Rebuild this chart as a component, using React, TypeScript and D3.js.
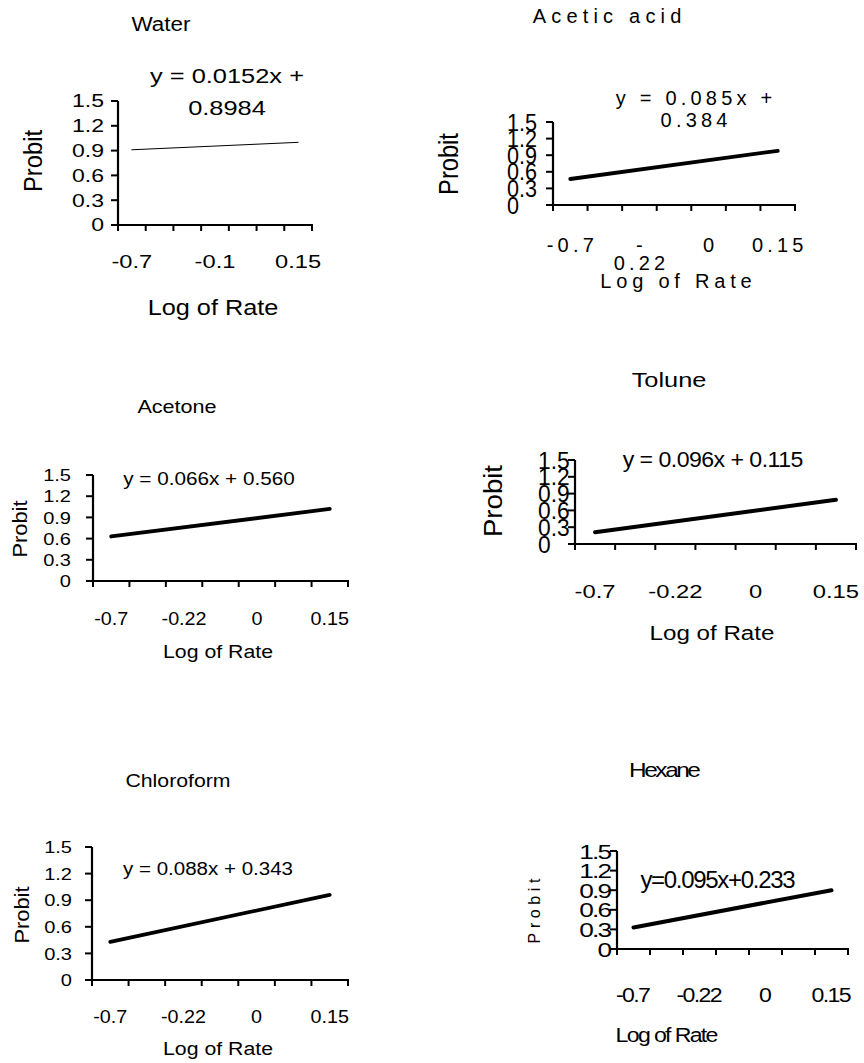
import React from 'react';
import * as d3 from 'd3';

// seven categories on each x axis, only some are labelled
const categories = [1, 2, 3, 4, 5, 6, 7];
const xLabelsWater = ["-0.7", "", "", "-0.1", "", "", "0.15"];
const xLabelsOther = ["-0.7", "", "-0.22", "", "0", "", "0.15"];
const yTicks = [0, 0.3, 0.6, 0.9, 1.2, 1.5];

const panelNames = ["Water", "Acetic acid", "Acetone", "Tolune", "Chloroform", "Hexane"];
const equations = [
    "y = 0.0152x + 0.8984",
    "y = 0.085x + 0.384",
    "y = 0.066x + 0.560",
    "y = 0.096x + 0.115",
    "y = 0.088x + 0.343",
    "y=0.095x+0.233",
];
// trend line values at first and last category
const trendStart = [0.91, 0.47, 0.63, 0.21, 0.43, 0.33];
const trendEnd = [1.0, 0.98, 1.02, 0.79, 0.96, 0.9];

const FONT = "'Liberation Sans', Arial, Helvetica, sans-serif";

type St = { f: number, sx?: number, sy?: number, ls?: number };

const layouts = [
    { // Water
        x0: 118, x1: 312, yTop: 101, yZero: 225, stroke: 1, eqWrap: true, dashWrap: false,
        title: { x: 161, y: 31, st: { f: 21, sx: 1.07 } },
        eq: { x: 227, y: 83, gap: 32, st: { f: 20, sx: 1.27 } },
        yLab: { x: 104, anchor: 'end', st: { f: 18, sx: 1.28 } },
        xLab: { y: 268, st: { f: 18.5, sx: 1.28 } },
        xTitle: { x: 213, y: 315, st: { f: 22, sx: 1.15 } },
        yTitle: { x: 32, y: 161, st: { f: 22, sx: 1.08, sy: 1.2 } },
    },
    { // Acetic acid
        x0: 553, x1: 795, yTop: 122, yZero: 205, stroke: 3.8, eqWrap: true, dashWrap: true,
        title: { x: 607, y: 23, st: { f: 20, ls: 5.2 } },
        eq: { x: 694, y: 105, gap: 22, st: { f: 20, ls: 4.2 } },
        yLab: { x: 507, anchor: 'start', st: { f: 24, sx: 0.9 } },
        xLab: { y: 252, st: { f: 20, ls: 4.2 } },
        xTitle: { x: 676, y: 288, st: { f: 20, ls: 4.8 } },
        yTitle: { x: 448, y: 164, st: { f: 26, sx: 0.91, sy: 1.05 } },
    },
    { // Acetone
        x0: 93, x1: 348, yTop: 475, yZero: 581, stroke: 3.8, eqWrap: false, dashWrap: false,
        title: { x: 177, y: 413, st: { f: 18, sx: 1.2 } },
        eq: { x: 209, y: 485, gap: 0, st: { f: 18.5, sx: 1.12 } },
        yLab: { x: 71, anchor: 'end', st: { f: 17, sx: 1.18 } },
        xLab: { y: 625, st: { f: 17.5, sx: 1.13 } },
        xTitle: { x: 218, y: 658, st: { f: 19, sx: 1.12 } },
        yTitle: { x: 20, y: 529, st: { f: 19, sx: 1.15, sy: 1.08 } },
    },
    { // Tolune
        x0: 575, x1: 856, yTop: 460, yZero: 544, stroke: 4, eqWrap: false, dashWrap: false,
        title: { x: 669, y: 387, st: { f: 19.5, sx: 1.3 } },
        eq: { x: 713, y: 467, gap: 0, st: { f: 22, sx: 1.05, ls: -0.5 } },
        yLab: { x: 538, anchor: 'start', st: { f: 24, sx: 0.95 } },
        xLab: { y: 598, st: { f: 18.6, sx: 1.28 } },
        xTitle: { x: 712, y: 640, st: { f: 21, sx: 1.15 } },
        yTitle: { x: 493, y: 501, st: { f: 20, sx: 1.38, sy: 1.3 } },
    },
    { // Chloroform
        x0: 92, x1: 348, yTop: 847, yZero: 980, stroke: 3.8, eqWrap: false, dashWrap: false,
        title: { x: 178, y: 787, st: { f: 18.5, sx: 1.15 } },
        eq: { x: 208, y: 875, gap: 0, st: { f: 18.5, sx: 1.11 } },
        yLab: { x: 72, anchor: 'end', st: { f: 17, sx: 1.18 } },
        xLab: { y: 1023, st: { f: 17.5, sx: 1.13 } },
        xTitle: { x: 218, y: 1055, st: { f: 19, sx: 1.12 } },
        yTitle: { x: 22, y: 915, st: { f: 19, sx: 1.15, sy: 1.08 } },
    },
    { // Hexane
        x0: 617, x1: 848, yTop: 851, yZero: 949, stroke: 4, eqWrap: false, dashWrap: false,
        title: { x: 665, y: 777, st: { f: 20, sx: 1.22, ls: -2 } },
        eq: { x: 718, y: 888, gap: 0, st: { f: 24, ls: -1.3 } },
        yLab: { x: 612, anchor: 'end', st: { f: 21, sx: 1.25, ls: -1.5 } },
        xLab: { y: 1002, st: { f: 21, sx: 1.1, ls: -1.5 } },
        xTitle: { x: 667, y: 1042, st: { f: 21, sx: 1.1, ls: -1.5 } },
        yTitle: { x: 534, y: 911, st: { f: 16, ls: 4.6 } },
    },
];

function T({ x, y, st, anchor = 'middle', rot = false, dy, children }:
    { x: number, y: number, st: St, anchor?: string, rot?: boolean, dy?: string, children: any }) {
    const sx = st.sx ?? 1, sy = st.sy ?? 1, ls = st.ls ?? 0;
    // chrome adds letter spacing after the last glyph too
    const shift = anchor === 'middle' ? ls / 2 : anchor === 'end' ? ls : 0;
    const tr = `translate(${x},${y})${rot ? ' rotate(-90)' : ''} scale(${sx},${sy})`;
    return (
        <text transform={tr} x={shift} dy={dy} fontSize={st.f} letterSpacing={ls} textAnchor={anchor as any}>{children}</text>
    );
}

function Panel({ idx }: { idx: number }) {
    const L = layouts[idx];
    const labels = idx === 0 ? xLabelsWater : xLabelsOther;
    const x = d3.scaleBand<number>().domain(categories).range([L.x0, L.x1]).padding(0);
    const y = d3.scaleLinear().domain([0, 1.5]).range([L.yZero, L.yTop]);
    const cx = (c: number) => (x(c) as number) + x.bandwidth() / 2;
    const line = d3.line<[number, number]>().x(d => cx(d[0])).y(d => y(d[1]));
    const pts: [number, number][] = [
        [categories[0], trendStart[idx]],
        [categories[categories.length - 1], trendEnd[idx]],
    ];
    const bounds = categories.map(c => x(c) as number).concat([L.x1]);

    const eq = equations[idx];
    let eqLines = [eq];
    if (L.eqWrap) {
        const p = eq.indexOf("+");
        eqLines = [eq.slice(0, p + 1), eq.slice(p + 2)];
    }

    return (
        <g fontFamily={FONT} fill="#000">
            <T x={L.title.x} y={L.title.y} st={L.title.st}>{panelNames[idx]}</T>
            {eqLines.map((t, i) => (
                <T key={i} x={L.eq.x} y={L.eq.y + i * L.eq.gap} st={L.eq.st}>{t}</T>
            ))}
            {/* y axis */}
            <line x1={L.x0} x2={L.x0} y1={L.yTop} y2={L.yZero} stroke="#000" strokeWidth={2.2} />
            {yTicks.map(t => (
                <g key={t}>
                    <line x1={L.x0 - 7} x2={L.x0} y1={y(t)} y2={y(t)} stroke="#000" strokeWidth={2} />
                    <T x={L.yLab.x} y={y(t)} dy="0.36em" anchor={L.yLab.anchor} st={L.yLab.st}>{String(t)}</T>
                </g>
            ))}
            {/* x axis */}
            <line x1={L.x0 - 7} x2={L.x1 + 1} y1={L.yZero} y2={L.yZero} stroke="#000" strokeWidth={2.2} />
            {bounds.map((b, i) => (
                <line key={i} x1={b} x2={b} y1={L.yZero} y2={L.yZero + 6} stroke="#000" strokeWidth={2} />
            ))}
            {categories.map((c, i) => {
                const lab = labels[i];
                if (!lab) return null;
                if (L.dashWrap && lab.startsWith("-0.2")) {
                    return (
                        <g key={c}>
                            <T x={cx(c)} y={L.xLab.y} st={L.xLab.st}>-</T>
                            <T x={cx(c)} y={L.xLab.y + 18} st={L.xLab.st}>{lab.slice(1)}</T>
                        </g>
                    );
                }
                return <T key={c} x={cx(c)} y={L.xLab.y} st={L.xLab.st}>{lab}</T>;
            })}
            <T x={L.xTitle.x} y={L.xTitle.y} st={L.xTitle.st}>Log of Rate</T>
            <T x={L.yTitle.x} y={L.yTitle.y} rot dy="0.36em" st={L.yTitle.st}>Probit</T>
            {/* trend line */}
            <path d={line(pts) || ""} fill="none" stroke="#000" strokeWidth={L.stroke} strokeLinecap="round" />
        </g>
    );
}

export default function App() {
    return (
        <svg width={864} height={1063} style={{ position: 'absolute', left: 0, top: 0, background: '#fff' }}>
            <rect width={864} height={1063} fill="#fff" />
            {panelNames.map((n, i) => <Panel key={n} idx={i} />)}
        </svg>
    );
}
